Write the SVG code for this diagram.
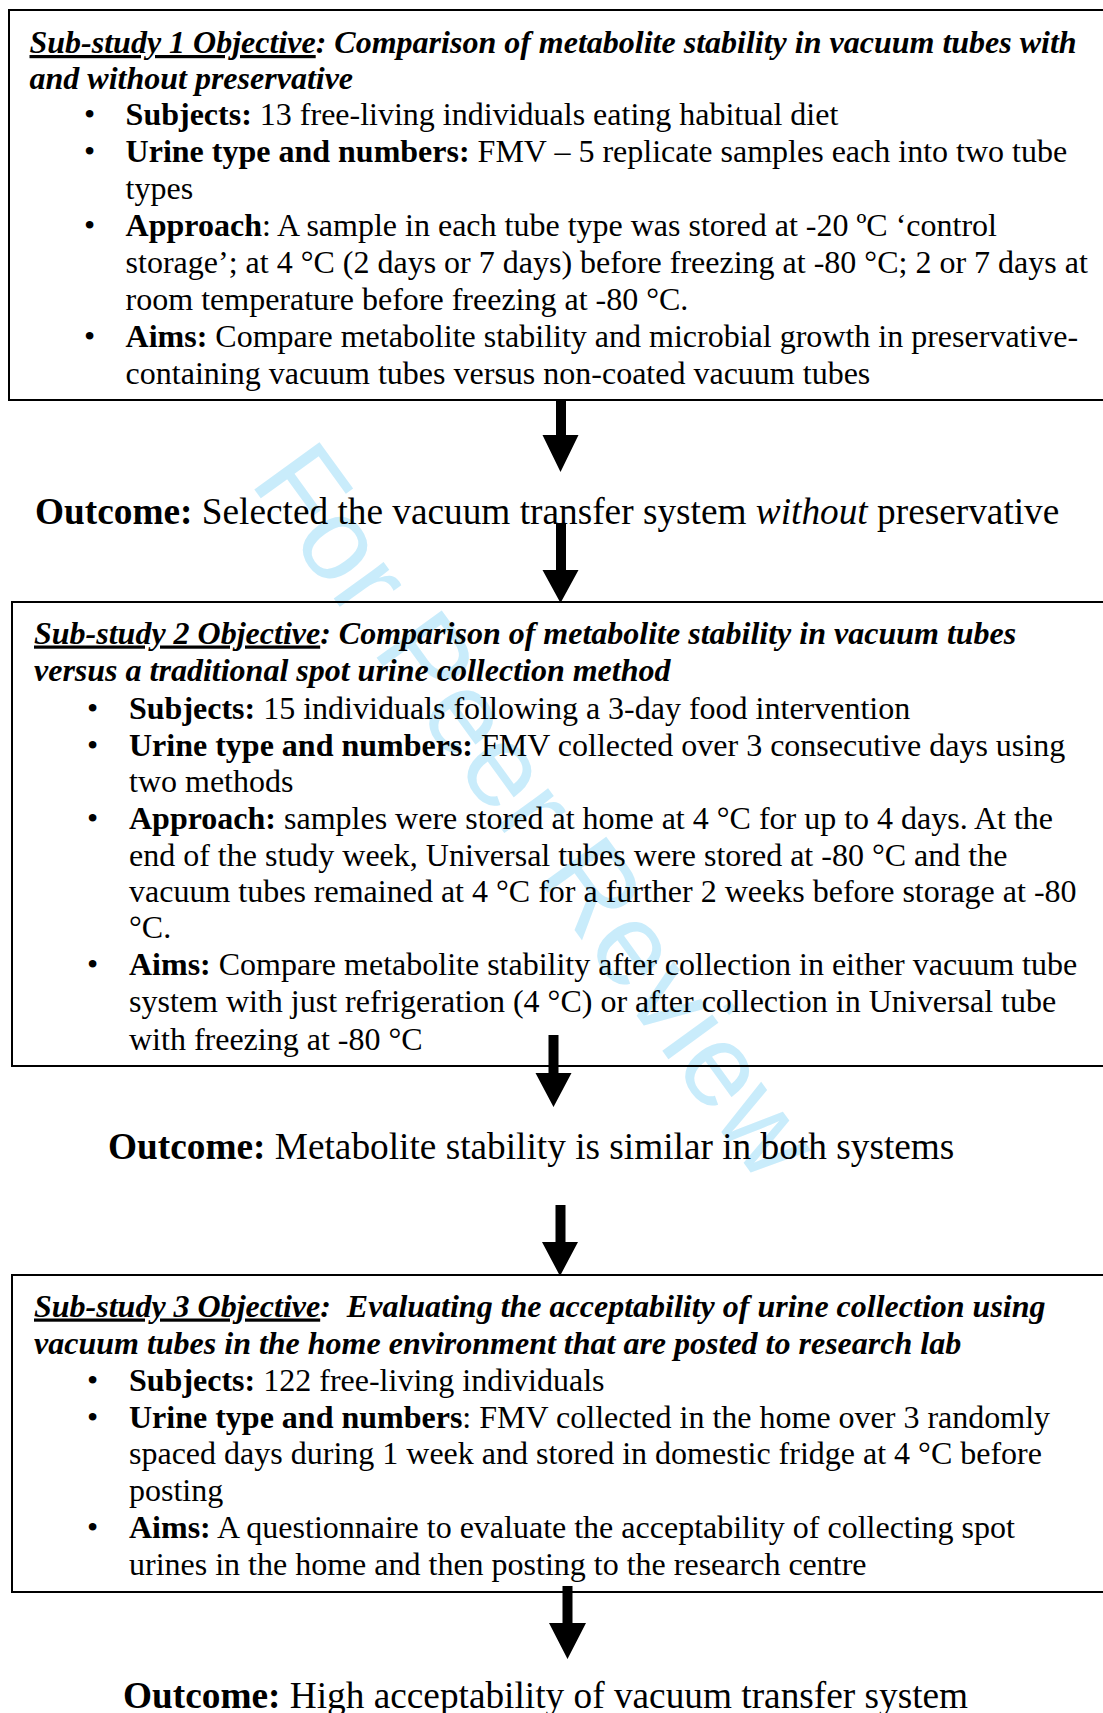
<svg xmlns="http://www.w3.org/2000/svg" width="1103" height="1713" viewBox="0 0 1103 1713">
<style>
text{font-family:"Liberation Serif","Times New Roman",serif;fill:#000}
.t{font-size:32px}
.ti{font-size:32px;font-weight:bold;font-style:italic}
.b{font-weight:bold}
.i{font-style:italic}
.u{text-decoration:underline}
.o{font-size:37.3px}
.box{fill:none;stroke:#000;stroke-width:2}
.arr{fill:#000;stroke:none}
.wm{font-family:"Liberation Sans",Arial,sans-serif;font-size:117px;fill:#c9ecfb}
</style>
<rect width="1103" height="1713" fill="#fff"/>
<text class="wm" transform="translate(538,810) rotate(54)" text-anchor="middle" dy="0.35em">For Peer Review</text>

<g id="substudy1">
<rect class="box" x="9" y="10" width="1110" height="390"/>
<text class="ti" x="29.5" y="53"><tspan class="u">Sub-study 1 Objective</tspan>: Comparison of metabolite stability in vacuum tubes with</text>
<text class="ti" x="29.5" y="89">and without preservative</text>
<text class="t" x="84" y="124.5">•</text><text class="t" x="125.6" y="124.5"><tspan class="b">Subjects:</tspan> 13 free-living individuals eating habitual diet</text>
<text class="t" x="84" y="161.5">•</text><text class="t" x="125.6" y="161.5"><tspan class="b">Urine type and numbers:</tspan> FMV – 5 replicate samples each into two tube</text>
<text class="t" x="125.6" y="198.5">types</text>
<text class="t" x="84" y="235.5">•</text><text class="t" x="125.6" y="235.5"><tspan class="b">Approach</tspan>: A sample in each tube type was stored at -20 ºC ‘control</text>
<text class="t" x="125.6" y="272.5">storage’; at 4 °C (2 days or 7 days) before freezing at -80 °C; 2 or 7 days at</text>
<text class="t" x="125.6" y="309.5">room temperature before freezing at -80 °C.</text>
<text class="t" x="84" y="346.5">•</text><text class="t" x="125.6" y="346.5"><tspan class="b">Aims:</tspan> Compare metabolite stability and microbial growth in preservative-</text>
<text class="t" x="125.6" y="383.5">containing vacuum tubes versus non-coated vacuum tubes</text>
</g>

<g id="outcome1">
<text class="o" x="35" y="523.5"><tspan class="b">Outcome:</tspan> Selected the vacuum transfer system <tspan class="i">without</tspan> preservative</text>
</g>

<g id="substudy2">
<rect class="box" x="12" y="602" width="1110" height="464"/>
<text class="ti" x="34" y="643.5"><tspan class="u">Sub-study 2 Objective</tspan>: Comparison of metabolite stability in vacuum tubes</text>
<text class="ti" x="34" y="680.5">versus a traditional spot urine collection method</text>
<text class="t" x="87" y="718.5">•</text><text class="t" x="129" y="718.5"><tspan class="b">Subjects:</tspan> 15 individuals following a 3-day food intervention</text>
<text class="t" x="87" y="755.5">•</text><text class="t" x="129" y="755.5"><tspan class="b">Urine type and numbers:</tspan> FMV collected over 3 consecutive days using</text>
<text class="t" x="129" y="791.5">two methods</text>
<text class="t" x="87" y="828.5">•</text><text class="t" x="129" y="828.5"><tspan class="b">Approach:</tspan> samples were stored at home at 4 °C for up to 4 days. At the</text>
<text class="t" x="129" y="865.5">end of the study week, Universal tubes were stored at -80 °C and the</text>
<text class="t" x="129" y="901.5">vacuum tubes remained at 4 °C for a further 2 weeks before storage at -80</text>
<text class="t" x="129" y="937.5">°C.</text>
<text class="t" x="87" y="975">•</text><text class="t" x="129" y="975"><tspan class="b">Aims:</tspan> Compare metabolite stability after collection in either vacuum tube</text>
<text class="t" x="129" y="1012">system with just refrigeration (4 °C) or after collection in Universal tube</text>
<text class="t" x="129" y="1049.5">with freezing at -80 °C</text>
</g>

<g id="outcome2">
<text class="o" x="108" y="1158.5"><tspan class="b">Outcome:</tspan> Metabolite stability is similar in both systems</text>
</g>

<g id="substudy3">
<rect class="box" x="12" y="1275" width="1110" height="317"/>
<text class="ti" x="34" y="1316.5"><tspan class="u">Sub-study 3 Objective</tspan>: &#160;Evaluating the acceptability of urine collection using</text>
<text class="ti" x="34" y="1353.5">vacuum tubes in the home environment that are posted to research lab</text>
<text class="t" x="87" y="1390.5">•</text><text class="t" x="129" y="1390.5"><tspan class="b">Subjects:</tspan> 122 free-living individuals</text>
<text class="t" x="87" y="1427.5">•</text><text class="t" x="129" y="1427.5"><tspan class="b">Urine type and numbers</tspan>: FMV collected in the home over 3 randomly</text>
<text class="t" x="129" y="1463.5">spaced days during 1 week and stored in domestic fridge at 4 °C before</text>
<text class="t" x="129" y="1500.5">posting</text>
<text class="t" x="87" y="1537.5">•</text><text class="t" x="129" y="1537.5"><tspan class="b">Aims:</tspan> A questionnaire to evaluate the acceptability of collecting spot</text>
<text class="t" x="129" y="1574.5">urines in the home and then posting to the research centre</text>
</g>

<g id="outcome3">
<text class="o" x="123" y="1708"><tspan class="b">Outcome:</tspan> High acceptability of vacuum transfer system</text>
</g>

<g id="connectors">
<path class="arr" d="M556,400 H566 V435 H578.5 L560.5,472 L542.5,435 H556 Z"/>
<path class="arr" d="M556,523 H566 V570 H578.5 L560.5,603 L542.5,570 H556 Z"/>
<path class="arr" d="M548.5,1035 H558.5 V1073 H571.5 L553.5,1107 L535.5,1073 H548.5 Z"/>
<path class="arr" d="M555.5,1205 H565.5 V1242 H578 L560,1276 L542,1242 H555.5 Z"/>
<path class="arr" d="M562.5,1586 H572.5 V1623 H586 L567.5,1659 L549,1623 H562.5 Z"/>
</g>
</svg>
